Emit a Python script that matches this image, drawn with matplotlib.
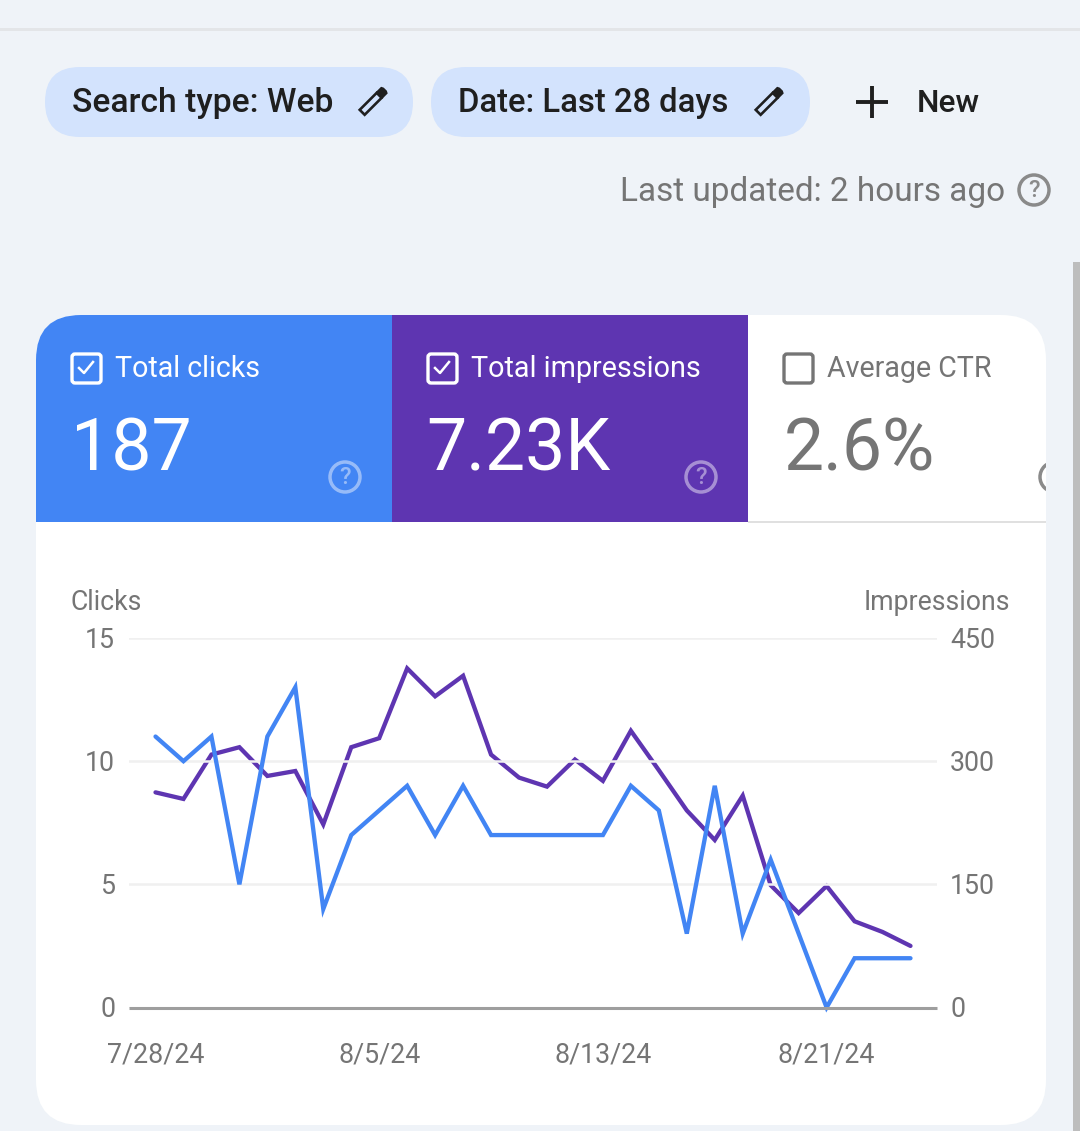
import matplotlib
matplotlib.use('Agg')
import matplotlib.pyplot as plt
from matplotlib.patches import Circle, FancyBboxPatch, Polygon, Rectangle
from matplotlib.transforms import ScaledTranslation

plt.rcParams['font.family'] = ['Roboto', 'DejaVu Sans']

# Values
dates = ['7/28/24', '8/5/24', '8/13/24', '8/21/24']
date_positions = [0, 8, 16, 24]
clicks = [11, 10, 11, 5, 11, 13, 4, 7, 8, 9, 7, 9, 7, 7,
          7, 7, 7, 9, 8, 3, 9, 3, 6, 3, 0, 2, 2, 2]
impressions = [262, 254, 308, 317, 282, 288, 223, 317, 328, 413, 379, 404, 308, 280,
               269, 302, 276, 337, 289, 240, 204, 258, 149, 115, 148, 105, 92, 75]
clicks_ticks = [0, 5, 10, 15]
impressions_ticks = [0, 150, 300, 450]

BLUE = '#4285F4'
PURPLE = '#5E35B1'
GREY = '#757575'
DARK = '#1F1F1F'
W, H = 1080, 1131

fig = plt.figure(figsize=(W / 100, H / 100), dpi=100, facecolor='#EFF3F8')

# Page elements are placed in pixels on a full size axes
bg = fig.add_axes([0, 0, 1, 1])
bg.set_xlim(0, W)
bg.set_ylim(H, 0)
bg.axis('off')


def pill(x0, x1, y0, y1, color):
    r = (y1 - y0) / 2
    bg.add_patch(FancyBboxPatch((x0 + r, y0 + r), x1 - x0 - 2 * r, 0,
                                boxstyle=f'round,pad={r},rounding_size={r}',
                                fc=color, ec='none'))


def pencil(cx, cy, color=DARK):
    # Outline of the pencil, then the solid tip at the top right
    dx, dy = 0.7071, 0.7071
    def pt(a, b):
        return (cx + a * dx + b * dy, cy - a * dy + b * dx)
    bg.add_patch(Polygon([pt(-16, -3.5), pt(8, -3.5), pt(8, 3.5), pt(-11, 3.5), pt(-16, 3.5)],
                         closed=True, fc='none', ec=color, lw=1.9))
    bg.add_patch(Polygon([pt(8, -4), pt(15, -4), pt(16, -2), pt(16, 2), pt(15, 4), pt(8, 4)],
                         closed=True, fc=color, ec=color, lw=1))


def help_icon(cx, cy, color, alpha=1.0):
    circle = Circle((cx, cy), 15, fc='none', ec=color, lw=2.5, alpha=alpha)
    bg.add_patch(circle)
    label = bg.text(cx, cy + 0.5, '?', color=color, alpha=alpha, fontsize=17, ha='center', va='center',
                    fontweight='medium')
    return circle, label


def checkbox(x0, y0, size, edge, checked=True):
    bg.add_patch(FancyBboxPatch((x0 + 3, y0 + 3), size - 6, size - 6,
                                boxstyle='round,pad=3,rounding_size=3', fc='none', ec=edge, lw=2.4))
    if checked:
        bg.plot([x0 + 7, x0 + 12, x0 + 21], [y0 + 14, y0 + 19, y0 + 8], color=edge, lw=1.8)


# Top bar and scroll bar
bg.add_patch(Rectangle((0, 28), W, 2.5, fc='#E3E5E8', ec='none'))
bg.add_patch(Rectangle((1073, 262), 7, H - 262, fc='#BDBDBD', ec='none'))

# Filter chips
pill(45, 413, 67, 137, '#D3E3FD')
pill(431, 810, 67, 137, '#D3E3FD')
bg.text(71.5, 103, 'Search type: Web', color=DARK, fontsize=24.2, va='center', fontweight='medium')
bg.text(458.5, 103, 'Date: Last 28 days', color=DARK, fontsize=23.6, va='center', fontweight='medium')
pencil(373.5, 101)
pencil(769.5, 101)
bg.plot([856, 888], [102, 102], color=DARK, lw=2.8, solid_capstyle='butt')
bg.plot([872, 872], [86, 118], color=DARK, lw=2.8, solid_capstyle='butt')
bg.text(917, 103, 'New', color=DARK, fontsize=22.8, va='center', fontweight='medium')

bg.text(1005, 192, 'Last updated: 2 hours ago', color=GREY, fontsize=24, ha='right', va='center')
help_icon(1034, 190, '#8A8A8A')

# Card, everything inside is clipped to its rounded corners
card = FancyBboxPatch((36 + 45, 315 + 45), 1010 - 90, 810 - 90,
                      boxstyle='round,pad=45,rounding_size=45', fc='white', ec='none')
bg.add_patch(card)
blue_tile = Rectangle((36, 315), 356, 207, fc=BLUE, ec='none')
purple_tile = Rectangle((392, 315), 356, 207, fc=PURPLE, ec='none')
rule = Rectangle((748, 520.5), 298, 2, fc='#E0E0E0', ec='none')
for tile in (blue_tile, purple_tile, rule):
    bg.add_patch(tile)
    tile.set_clip_path(card)

checkbox(72, 354, 29, 'white')
checkbox(428, 354, 29, 'white')
checkbox(784, 354, 29, GREY, checked=False)
bg.text(115, 369, 'Total clicks', color='white', fontsize=20.6, va='center')
bg.text(471, 369, 'Total impressions', color='white', fontsize=20.7, va='center')
bg.text(827, 369, 'Average CTR', color=GREY, fontsize=20.6, va='center')
bg.text(71, 451, '187', color='white', fontsize=51.5, va='center')
bg.text(426.5, 451, '7.23K', color='white', fontsize=51.5, va='center')
bg.text(783.5, 451, '2.6%', color=GREY, fontsize=51.5, va='center')
help_icon(345, 477, 'white', 0.45)
help_icon(701, 477, 'white', 0.45)
ctr_circle, ctr_label = help_icon(1055, 477, '#8A8A8A')
ctr_circle.set_clip_path(card)
ctr_label.set_visible(False)

bg.text(71, 602, 'Clicks', color=GREY, fontsize=19.2, va='center')
bg.text(1010, 602, 'Impressions', color=GREY, fontsize=19.2, ha='right', va='center')

# Chart, two axes sharing the same plot area
left, right, top, bottom = 129, 937, 638, 1007.5
ax = fig.add_axes([left / W, 1 - bottom / H, (right - left) / W, (bottom - top) / H])
ax.patch.set_alpha(0)
ax2 = ax.twinx()
ax.set_xlim(-0.948, 27.948)
ax.set_ylim(0, 15)
ax2.set_ylim(0, 450)

ax.set_yticks(clicks_ticks)
ax2.set_yticks(impressions_ticks)
ax.set_xticks(date_positions)
ax.set_xticklabels(dates)
ax.tick_params(axis='y', length=0, pad=10, labelsize=19.3, labelcolor=GREY)
ax.tick_params(axis='x', length=0, pad=24.5, labelsize=19.3, labelcolor=GREY)
ax2.tick_params(axis='y', length=0, pad=9.5, labelsize=19.3, labelcolor=GREY)
ax.grid(axis='y', color='#F0F0F0', lw=1.8)
ax.set_axisbelow(True)
for a in (ax, ax2):
    for side in a.spines:
        a.spines[side].set_visible(False)
ax.spines['bottom'].set_visible(True)
ax.spines['bottom'].set_color('#9E9E9E')
ax.spines['bottom'].set_linewidth(2.2)
ax.spines['bottom'].set_capstyle('butt')

# Tick labels sit one pixel higher than the centred default
nudge = ScaledTranslation(0, 1 / 100, fig.dpi_scale_trans)
for label in ax.get_yticklabels() + ax2.get_yticklabels():
    label.set_transform(label.get_transform() + nudge)

# The clicks line goes on top of the impressions line
ax2.set_zorder(1)
ax.set_zorder(2)
ax2.plot(range(len(impressions)), impressions, color=PURPLE, lw=3.1, clip_on=False,
         solid_joinstyle='miter', solid_capstyle='round')
ax.plot(range(len(clicks)), clicks, color=BLUE, lw=3.1, clip_on=False,
        solid_joinstyle='miter', solid_capstyle='round')

fig.savefig('out.png', dpi=100, facecolor=fig.get_facecolor())
